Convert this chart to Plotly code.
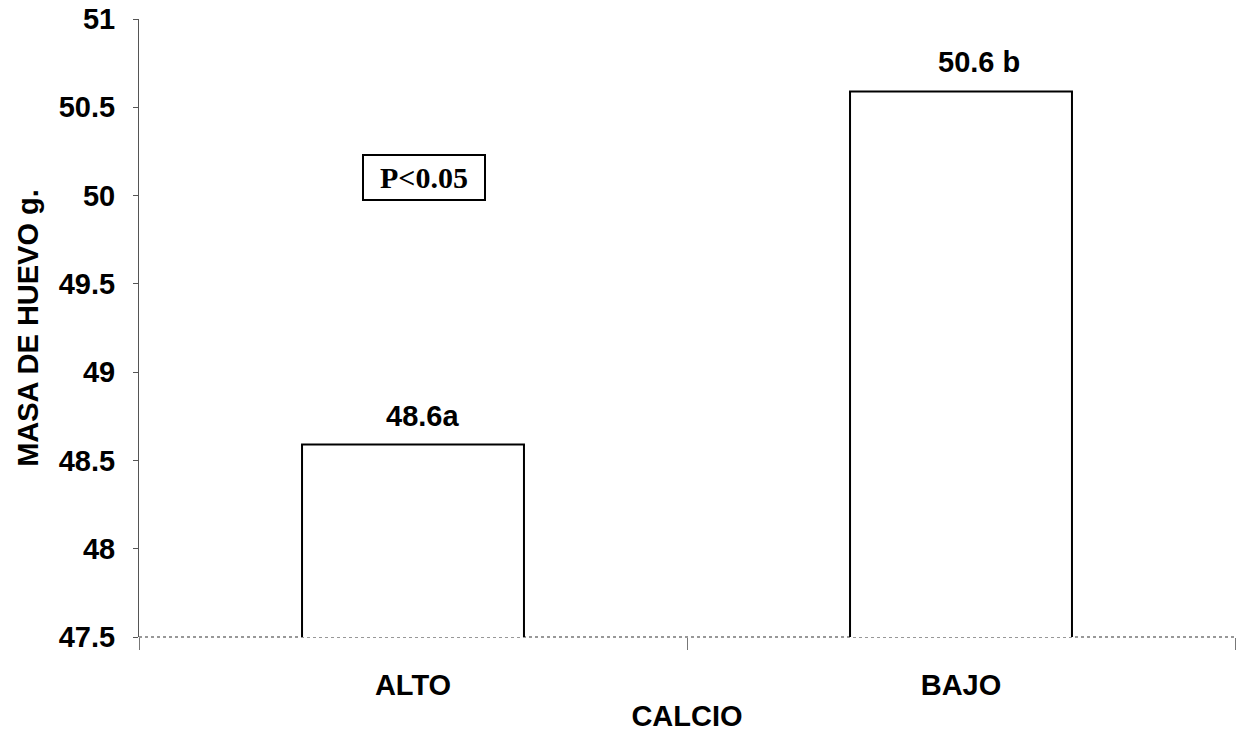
import plotly.graph_objects as go

categories = ["ALTO", "BAJO"]
values = [48.59, 50.59]
bar_labels = ["48.6a", "50.6 b"]
y_ticks = [47.5, 48, 48.5, 49, 49.5, 50, 50.5, 51]
y_tick_text = ["47.5", "48", "48.5", "49", "49.5", "50", "50.5", "51"]
p_text = "P<0.05"

FONT = "Liberation Sans, Arial, sans-serif"
FS = 29
LABEL_XSHIFT = [9, 18]  # style: small horizontal nudge of value labels

fig = go.Figure()
fig.add_trace(go.Bar(
    x=categories, y=values, base=0,
    width=0.405,
    marker=dict(color="white", line=dict(color="black", width=2)),
    hoverinfo="skip",
))

for c, v, t, dx in zip(categories, values, bar_labels, LABEL_XSHIFT):
    fig.add_annotation(
        x=c, y=v, xref="x", yref="y", text="<b>%s</b>" % t,
        showarrow=False, yanchor="bottom", yshift=11, xshift=dx,
        font=dict(family=FONT, size=FS, color="black"),
    )

fig.add_annotation(
    x=0.2596, y=0.744, xref="paper", yref="paper",
    xanchor="center", yanchor="middle",
    text="<b>%s</b>" % p_text, showarrow=False,
    font=dict(family="Liberation Serif, Times New Roman, serif", size=30, color="black"),
    width=118, height=41,
    bordercolor="black", borderwidth=2, borderpad=1, bgcolor="white",
)

# dotted x-axis baseline (as in the scanned original)
fig.add_shape(type="line", xref="paper", yref="paper", x0=0, x1=1, y0=0, y1=0,
              line=dict(color="#777777", width=1.5, dash="dot"), layer="below")

fig.update_layout(
    width=1238, height=732,
    margin=dict(l=139, r=3, t=19, b=95),
    paper_bgcolor="white", plot_bgcolor="white",
    showlegend=False,
    font=dict(family=FONT, size=FS, color="black"),
)
fig.update_xaxes(
    title=dict(text="<b>CALCIO</b>", font=dict(family=FONT, size=FS), standoff=8),
    tickvals=categories, ticktext=["<b>%s</b>" % c for c in categories],
    tickfont=dict(family=FONT, size=FS, color="black"),
    showline=False,
    showgrid=False, ticks="outside", ticklen=12, tickcolor="#777777", tickwidth=1,
    tickson="boundaries", ticklabelstandoff=28,
    automargin=False,
)
fig.update_yaxes(
    range=[47.5, 51],
    title=dict(text="<b>MASA DE HUEVO g.</b>", font=dict(family=FONT, size=FS), standoff=11),
    tickvals=y_ticks, ticktext=["<b>%s</b>" % t for t in y_tick_text],
    tickfont=dict(family=FONT, size=FS, color="black"),
    showline=True, linecolor="#555555", linewidth=1,
    showgrid=False, ticks="outside", ticklen=5, tickcolor="#555555",
    ticklabelstandoff=12,
    zeroline=False, automargin=False,
)

fig.write_html(
    "out.html",
    config={"displayModeBar": False},
    post_script="document.body.style.margin='0';document.body.style.overflow='hidden';",
)
